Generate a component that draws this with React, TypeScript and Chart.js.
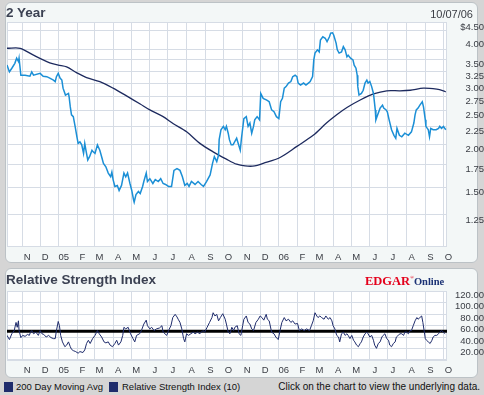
import React, { useEffect, useRef } from 'react';
import { Chart, registerables } from 'chart.js';

Chart.register(...registerables);

// ---- x axis: days since 10/07/04 ----
const DAY_MIN = 0;
const DAY_MAX = 730;
const monthTickDays = [25, 55, 86, 117, 145, 176, 206, 237, 267, 298, 329, 359, 390, 420, 451, 482, 510, 541, 571, 602, 632, 663, 694, 724];
const monthLabels = ['N', 'D', '05', 'F', 'M', 'A', 'M', 'J', 'J', 'A', 'S', 'O', 'N', 'D', '06', 'F', 'M', 'A', 'M', 'J', 'J', 'A', 'S', 'O'];

// ---- price panel ----
const priceDays = [
  0, 4, 8, 13, 16, 19, 20, 23, 30, 38,
  41, 44, 55, 60, 66, 71, 77, 80, 82, 85,
  88, 91, 93, 97, 102, 103, 105, 107, 110, 113,
  116, 118, 121, 124, 127, 129, 131, 134, 137, 141,
  143, 146, 150, 154, 157, 160, 164, 168, 172, 174,
  176, 179, 183, 186, 190, 194, 197, 200, 204, 207,
  210, 211, 214, 218, 221, 225, 227, 231, 233, 237,
  242, 246, 251, 255, 259, 263, 268, 273, 277, 282,
  287, 291, 295, 299, 302, 306, 312, 317, 322, 326,
  331, 337, 341, 344, 348, 351, 352, 355, 359, 362,
  364, 367, 369, 372, 375, 381, 387, 389, 393, 397,
  400, 403, 406, 409, 411, 415, 419, 421, 425, 431,
  435, 439, 443, 447, 451, 454, 457, 460, 463, 467,
  471, 474, 478, 481, 483, 487, 492, 496, 500, 503,
  507, 509, 511, 515, 518, 520, 524, 528, 531, 535,
  537, 540, 542, 546, 548, 551, 555, 558, 561, 564,
  566, 570, 574, 576, 579, 581, 582, 584, 588, 591,
  594, 597, 599, 602, 605, 608, 611, 612, 615, 619,
  623, 625, 629, 631, 634, 638, 642, 645, 647, 651,
  655, 660, 666, 671, 675, 677, 679, 682, 685, 689,
  691, 694, 695, 699, 701, 703, 707, 712, 716, 718,
  721, 724, 728,
];
const priceValues = [
  3.38, 3.23, 3.31, 3.42, 3.54, 3.46, 3.54, 3.16, 3.16, 3.14,
  3.23, 3.16, 3.20, 3.14, 3.13, 3.10, 3.06, 3.03, 3.13, 3.20,
  3.10, 3.06, 2.90, 2.77, 2.80, 2.74, 2.56, 2.43, 2.40, 2.25,
  2.10, 2.01, 2.03, 1.99, 1.88, 2.01, 1.92, 1.80, 1.84, 1.92,
  1.90, 1.88, 1.99, 1.92, 1.84, 1.76, 1.72, 1.65, 1.61, 1.66,
  1.58, 1.51, 1.52, 1.47, 1.52, 1.65, 1.61, 1.65, 1.54, 1.47,
  1.38, 1.36, 1.43, 1.46, 1.44, 1.51, 1.56, 1.65, 1.56, 1.59,
  1.54, 1.58, 1.56, 1.59, 1.54, 1.53, 1.51, 1.51, 1.68, 1.70,
  1.68, 1.61, 1.52, 1.54, 1.51, 1.56, 1.53, 1.56, 1.53, 1.51,
  1.56, 1.63, 1.76, 1.84, 1.78, 1.86, 2.06, 2.20, 2.25, 2.20,
  2.25, 2.15, 2.06, 1.99, 1.99, 2.08, 1.92, 2.08, 2.37, 2.40,
  2.25, 2.30, 2.15, 2.25, 2.35, 2.40, 2.35, 2.80, 2.71, 2.68,
  2.65, 2.51, 2.48, 2.40, 2.37, 2.65, 2.71, 2.90, 2.93, 3.00,
  3.03, 3.13, 3.16, 3.13, 3.00, 2.96, 3.00, 2.96, 3.00, 3.03,
  3.13, 3.50, 3.66, 3.74, 3.69, 3.99, 4.08, 4.04, 3.95, 4.08,
  4.18, 4.19, 4.13, 3.91, 3.74, 3.66, 3.69, 3.82, 3.74, 3.57,
  3.61, 3.54, 3.50, 3.38, 3.31, 3.16, 2.93, 2.77, 2.80, 2.86,
  3.00, 3.06, 3.00, 3.03, 2.93, 2.80, 2.51, 2.35, 2.43, 2.54,
  2.59, 2.54, 2.51, 2.48, 2.35, 2.20, 2.12, 2.08, 2.22, 2.12,
  2.10, 2.15, 2.12, 2.17, 2.30, 2.43, 2.51, 2.54, 2.59, 2.65,
  2.56, 2.35, 2.25, 2.20, 2.10, 2.22, 2.20, 2.20, 2.22, 2.25,
  2.22, 2.25, 2.20,
];

const maDays = [0, 22, 44, 71, 85, 99, 116, 132, 154, 176, 199, 221, 237, 259, 276, 298, 320, 342, 364, 381, 395, 411, 425, 453, 481, 508, 530, 547, 564, 586, 608, 630, 652, 669, 691, 713, 724, 728];
const maValues = [3.78, 3.78, 3.61, 3.43, 3.38, 3.34, 3.21, 3.11, 3.03, 2.90, 2.75, 2.61, 2.51, 2.40, 2.29, 2.17, 2.01, 1.90, 1.81, 1.75, 1.73, 1.73, 1.76, 1.83, 1.97, 2.12, 2.30, 2.43, 2.55, 2.68, 2.79, 2.85, 2.85, 2.86, 2.90, 2.88, 2.85, 2.83];

const PRICE_MIN = 1.01;
const PRICE_MAX = 4.5;
const priceTickValues = [1.25, 1.5, 1.75, 2, 2.25, 2.5, 2.75, 3, 3.25, 3.5, 3.75, 4, 4.25, 4.5];
const priceLabelValues = [1.25, 1.5, 1.75, 2, 2.25, 2.5, 2.75, 3, 3.25, 3.5, 4, 4.5];
const priceGridValues = [1.25, 1.5, 1.75, 2, 2.25, 2.5, 2.75, 3, 3.25, 3.5, 3.75, 4.25, 4.5];

// ---- RSI panel ----
const rsiDays = [
  0, 4, 8, 12, 15, 17, 19, 20, 23, 26,
  30, 34, 37, 39, 41, 44, 48, 52, 55, 58,
  61, 65, 69, 73, 77, 80, 82, 85, 87, 89,
  92, 96, 99, 102, 105, 107, 110, 114, 118, 121,
  126, 129, 132, 135, 138, 142, 146, 150, 153, 157,
  161, 164, 168, 171, 175, 179, 182, 185, 189, 192,
  194, 197, 201, 205, 209, 212, 215, 220, 223, 227,
  231, 233, 237, 240, 244, 248, 253, 257, 259, 262,
  265, 268, 272, 275, 279, 282, 284, 287, 290, 293,
  295, 298, 301, 305, 309, 312, 316, 320, 325, 328,
  332, 336, 340, 342, 345, 348, 351, 354, 358, 362,
  364, 367, 370, 373, 376, 378, 382, 385, 388, 391,
  393, 397, 400, 403, 406, 409, 413, 417, 420, 423,
  426, 430, 432, 435, 439, 443, 446, 450, 453, 456,
  460, 463, 467, 471, 474, 478, 482, 485, 489, 493,
  497, 502, 505, 508, 511, 514, 516, 519, 522, 526,
  529, 533, 536, 539, 541, 544, 547, 550, 552, 555,
  558, 561, 564, 566, 569, 572, 575, 577, 580, 583,
  586, 588, 591, 594, 597, 599, 602, 605, 608, 610,
  613, 616, 619, 622, 624, 627, 630, 633, 635, 638,
  641, 644, 646, 649, 652, 655, 658, 660, 663, 666,
  669, 671, 674, 677, 680, 682, 685, 688, 690, 692,
  694, 696, 699, 702, 705, 707, 710, 713, 716, 718,
  721, 724, 727,
];
const rsiValues = [
  42.8, 35.5, 45.6, 51.2, 65.3, 56.9, 68.1, 51.2, 38.9, 42.8,
  41.1, 44.5, 42.8, 48.4, 51.2, 45.6, 48.4, 42.8, 51.2, 45.6,
  44.5, 40.0, 42.8, 38.9, 37.2, 37.2, 51.2, 67.0, 59.7, 42.8,
  31.5, 23.1, 25.9, 31.5, 23.1, 18.6, 16.3, 14.6, 11.8, 14.6,
  13.0, 17.5, 28.7, 34.3, 28.7, 37.2, 42.8, 51.2, 45.6, 40.0,
  31.5, 29.8, 31.5, 25.9, 23.1, 28.7, 34.3, 25.9, 31.5, 42.8,
  56.9, 54.1, 56.9, 45.6, 37.2, 31.5, 42.8, 45.6, 51.2, 62.5,
  69.3, 59.7, 54.1, 56.9, 51.2, 54.1, 55.7, 59.7, 48.4, 45.6,
  42.8, 51.2, 59.7, 73.8, 79.4, 74.9, 70.9, 65.3, 54.1, 37.2,
  31.5, 45.6, 42.8, 45.6, 48.4, 45.6, 48.4, 45.6, 51.2, 48.4,
  56.9, 65.3, 73.8, 82.2, 76.6, 79.4, 68.1, 73.8, 80.5, 70.9,
  62.5, 48.4, 45.6, 56.9, 51.2, 56.9, 59.7, 45.6, 42.8, 59.7,
  70.9, 76.6, 65.3, 62.5, 54.1, 51.2, 65.3, 70.9, 76.6, 73.8,
  69.3, 79.4, 70.9, 68.1, 48.4, 45.6, 40.0, 35.5, 51.2, 65.3,
  73.8, 68.1, 70.9, 65.3, 68.1, 62.5, 63.6, 51.2, 54.1, 51.2,
  54.1, 51.2, 59.7, 68.1, 82.2, 76.6, 73.8, 76.6, 73.8, 70.9,
  76.6, 70.9, 73.8, 68.1, 59.7, 54.1, 42.8, 40.0, 31.5, 45.6,
  48.4, 42.8, 45.6, 42.8, 37.2, 42.8, 34.3, 31.5, 25.9, 23.1,
  28.7, 31.5, 40.0, 45.6, 48.4, 45.6, 40.0, 42.8, 34.3, 25.9,
  20.3, 28.7, 31.5, 40.0, 42.8, 45.6, 37.2, 34.3, 25.9, 23.1,
  28.7, 31.5, 40.0, 42.8, 45.6, 45.6, 42.8, 48.4, 48.4, 45.6,
  51.2, 51.2, 59.7, 68.1, 73.8, 70.9, 73.8, 76.6, 65.3, 51.2,
  37.2, 34.3, 31.5, 28.7, 34.3, 40.0, 42.8, 42.8, 45.6, 48.4,
  51.2, 48.4, 45.6,
];
const RSI_MIN = 0;
const RSI_MAX = 120;
const rsiTickValues = [0, 20, 40, 60, 80, 100, 120];
const RSI_MID = 50;

// ---- styles ----
const SANS = "'Liberation Sans', Arial, Helvetica, sans-serif";
const SERIF = "'Liberation Serif', 'Times New Roman', serif";
const GRID = '#d6dce5';
const TICK_COLOR = '#3a3d44';
const TITLE_COLOR = '#3b4152';
const PRICE_COLOR = '#1b8fd6';
const MA_COLOR = '#1d2a5e';
const RSI_COLOR = '#1f2c6c';
const PANEL_BG = '#f3f7f7';
const PAGE_BG = '#d5d5d5';

const framePlugin = {
  id: 'plotFrame',
  beforeDraw(chart: any) {
    const { ctx, chartArea: a } = chart;
    ctx.save();
    ctx.fillStyle = '#ffffff';
    ctx.fillRect(a.left, a.top, a.right - a.left, a.bottom - a.top);
    ctx.restore();
  },
  beforeDatasetsDraw(chart: any) {
    const { ctx, chartArea: a } = chart;
    ctx.save();
    ctx.strokeStyle = GRID;
    ctx.lineWidth = 1;
    const l = Math.round(a.left) + 0.5;
    const t = Math.round(a.top) + 0.5;
    const r = Math.round(a.right) - 0.5;
    const b = Math.round(a.bottom) - 0.5;
    ctx.strokeRect(l, t, r - l, b - t);
    ctx.restore();
  },
};

const tickFont = { family: SANS, size: 9.5 };

function makeXAxis() {
  return {
    type: 'linear',
    min: DAY_MIN,
    max: DAY_MAX,
    afterBuildTicks: (s: any) => {
      s.ticks = monthTickDays.map((v) => ({ value: v }));
    },
    afterFit: (s: any) => {
      s.height = 18;
    },
    ticks: {
      autoSkip: false,
      maxRotation: 0,
      minRotation: 0,
      labelOffset: 5,
      padding: 5,
      color: TICK_COLOR,
      font: tickFont,
      callback: (_v: any, i: number) => monthLabels[i],
    },
    grid: { color: GRID, drawTicks: false, lineWidth: 1 },
    border: { display: false },
  };
}

export default function App() {
  const topRef = useRef<HTMLCanvasElement>(null);
  const rsiRef = useRef<HTMLCanvasElement>(null);

  useEffect(() => {
    document.body.style.margin = '0';
    const top = new Chart(topRef.current as HTMLCanvasElement, {
      type: 'line',
      data: {
        datasets: [
          {
            label: 'Price',
            data: priceDays.map((d, i) => ({ x: d, y: priceValues[i] })),
            borderColor: PRICE_COLOR,
            borderWidth: 1.5,
            pointRadius: 0,
            tension: 0,
            fill: false,
          },
          {
            label: '200 Day Moving Avg',
            data: maDays.map((d, i) => ({ x: d, y: maValues[i] })),
            borderColor: MA_COLOR,
            borderWidth: 1.3,
            pointRadius: 0,
            tension: 0.3,
            fill: false,
          },
        ],
      },
      options: {
        responsive: false,
        animation: false,
        events: [],
        layout: { padding: { left: 7, top: 22, right: 0, bottom: 0 } },
        plugins: { legend: { display: false }, tooltip: { enabled: false }, title: { display: false } },
        scales: {
          x: makeXAxis() as any,
          y: {
            type: 'logarithmic',
            position: 'right',
            min: PRICE_MIN,
            max: PRICE_MAX,
            afterBuildTicks: (s: any) => {
              s.ticks = priceTickValues.map((v) => ({ value: v }));
            },
            afterFit: (s: any) => {
              s.width = 37;
            },
            ticks: {
              autoSkip: false,
              crossAlign: 'far',
              padding: 3,
              labelOffset: 5,
              color: TICK_COLOR,
              font: tickFont,
              callback: (v: any) => {
                const n = Number(v);
                if (!priceLabelValues.includes(n)) return '';
                return n === PRICE_MAX ? '$' + n.toFixed(2) : n.toFixed(2);
              },
            },
            grid: {
              drawTicks: false,
              lineWidth: 1,
              color: (ctx: any) => (ctx.tick && priceGridValues.includes(ctx.tick.value) ? GRID : 'rgba(0,0,0,0)'),
            },
            border: { display: false },
          } as any,
        },
      },
      plugins: [framePlugin],
    } as any);

    const rsi = new Chart(rsiRef.current as HTMLCanvasElement, {
      type: 'line',
      data: {
        datasets: [
          {
            label: 'Relative Strength Index (10)',
            data: rsiDays.map((d, i) => ({ x: d, y: rsiValues[i] })),
            borderColor: RSI_COLOR,
            borderWidth: 1,
            pointRadius: 0,
            tension: 0,
            fill: false,
          },
          {
            label: 'mid',
            data: [
              { x: DAY_MIN, y: RSI_MID },
              { x: DAY_MAX, y: RSI_MID },
            ],
            borderColor: '#000000',
            borderWidth: 3,
            pointRadius: 0,
            fill: false,
          },
        ],
      },
      options: {
        responsive: false,
        animation: false,
        events: [],
        layout: { padding: { left: 7, top: 23, right: 0, bottom: 0 } },
        plugins: { legend: { display: false }, tooltip: { enabled: false }, title: { display: false } },
        scales: {
          x: makeXAxis() as any,
          y: {
            type: 'linear',
            position: 'right',
            min: RSI_MIN,
            max: RSI_MAX,
            afterBuildTicks: (s: any) => {
              s.ticks = rsiTickValues.map((v) => ({ value: v }));
            },
            afterFit: (s: any) => {
              s.width = 37;
            },
            ticks: {
              autoSkip: false,
              crossAlign: 'far',
              padding: 3,
              labelOffset: 4,
              color: TICK_COLOR,
              font: tickFont,
              callback: (v: any) => (Number(v) === RSI_MIN ? '' : Number(v).toFixed(2)),
            },
            grid: { color: GRID, drawTicks: false, lineWidth: 1 },
            border: { display: false },
          } as any,
        },
      },
      plugins: [framePlugin],
    } as any);

    return () => {
      top.destroy();
      rsi.destroy();
    };
  }, []);

  const panel: React.CSSProperties = {
    position: 'absolute',
    left: 5,
    width: 471,
    background: PANEL_BG,
    border: '1px solid #bcc2c6',
    borderRadius: 6,
  };

  return (
    <div
      style={{
        position: 'fixed',
        left: 0,
        top: 0,
        width: 484,
        height: 395,
        background: PAGE_BG,
        overflow: 'hidden',
        fontFamily: SANS,
      }}
    >
      <div style={{ ...panel, top: 2, height: 259 }} />
      <div style={{ ...panel, top: 268, height: 108 }} />

      <canvas ref={topRef} width={484} height={265} style={{ position: 'absolute', left: 0, top: 0, display: 'block' }} />
      <canvas ref={rsiRef} width={484} height={110} style={{ position: 'absolute', left: 0, top: 268, display: 'block' }} />

      <div style={{ position: 'absolute', left: 6, top: 6, fontSize: 13.5, lineHeight: '13px', fontWeight: 'bold', color: TITLE_COLOR, whiteSpace: 'nowrap' }}>
        2 Year
      </div>
      <div style={{ position: 'absolute', right: 11, top: 9, fontSize: 11, lineHeight: '11px', color: TICK_COLOR, whiteSpace: 'nowrap' }}>
        10/07/06
      </div>

      <div style={{ position: 'absolute', left: 6, top: 273, fontSize: 13.5, lineHeight: '13px', fontWeight: 'bold', color: TITLE_COLOR, whiteSpace: 'nowrap' }}>
        Relative Strength Index
      </div>
      <div style={{ position: 'absolute', left: 365, top: 270, lineHeight: '16px', whiteSpace: 'nowrap', fontFamily: SERIF, fontWeight: 'bold', fontSize: 12.5 }}>
        <span style={{ color: '#e4001b' }}>EDGAR</span>
        <span style={{ color: '#e4001b', fontSize: 5, verticalAlign: '6px' }}>®</span>
        <span style={{ color: '#1b3275', fontSize: 10.5 }}>Online</span>
      </div>

      <div style={{ position: 'absolute', left: 4, top: 382, width: 9, height: 10, background: RSI_COLOR }} />
      <div style={{ position: 'absolute', left: 16, top: 380, fontSize: 9.5, lineHeight: '14px', color: '#111', whiteSpace: 'nowrap' }}>
        200 Day Moving Avg
      </div>
      <div style={{ position: 'absolute', left: 109, top: 382, width: 9, height: 10, background: RSI_COLOR }} />
      <div style={{ position: 'absolute', left: 122, top: 380, fontSize: 9.5, lineHeight: '14px', color: '#111', whiteSpace: 'nowrap' }}>
        Relative Strength Index (10)
      </div>
      <div style={{ position: 'absolute', right: 4, top: 380, fontSize: 10, lineHeight: '14px', color: '#111', whiteSpace: 'nowrap' }}>
        Click on the chart to view the underlying data.
      </div>
    </div>
  );
}
